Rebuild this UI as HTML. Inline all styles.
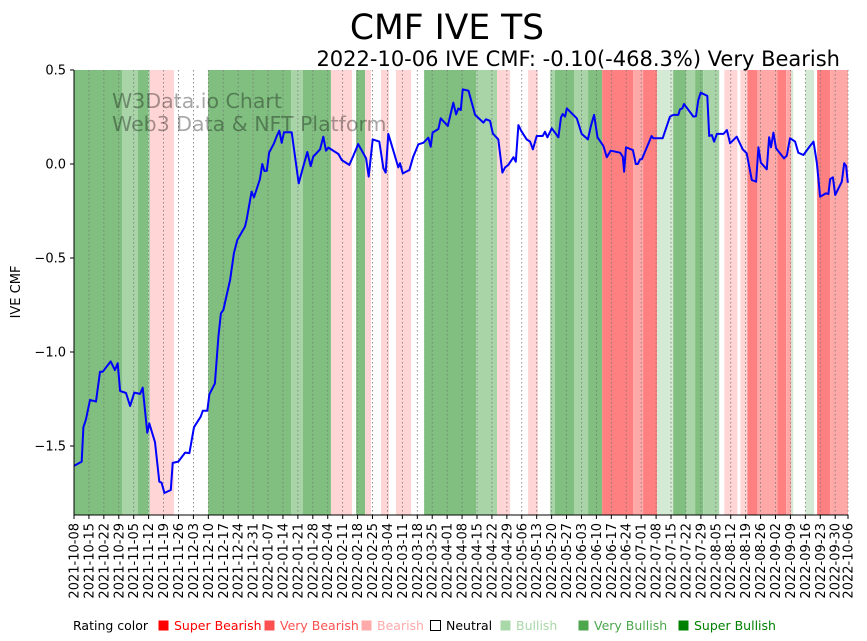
<!DOCTYPE html>
<html><head><meta charset="utf-8"><style>
body{margin:0;background:#fff;font-family:"DejaVu Sans","Liberation Sans",sans-serif;}
#wrap{position:relative;width:867px;height:641px;overflow:hidden;}
svg text{font-family:"DejaVu Sans","Liberation Sans",sans-serif;}
</style></head><body>
<div id="wrap">
<svg id="chart" width="867" height="641" xmlns="http://www.w3.org/2000/svg"></svg>
</div>
<script>
// ---- data ----
const tickLabels = ["2021-10-08","2021-10-15","2021-10-22","2021-10-29","2021-11-05","2021-11-12","2021-11-19","2021-11-26","2021-12-03","2021-12-10","2021-12-17","2021-12-24","2021-12-31","2022-01-07","2022-01-14","2022-01-21","2022-01-28","2022-02-04","2022-02-11","2022-02-18","2022-02-25","2022-03-04","2022-03-11","2022-03-18","2022-03-25","2022-04-01","2022-04-08","2022-04-15","2022-04-22","2022-04-29","2022-05-06","2022-05-13","2022-05-20","2022-05-27","2022-06-03","2022-06-10","2022-06-17","2022-06-24","2022-07-01","2022-07-08","2022-07-15","2022-07-22","2022-07-29","2022-08-05","2022-08-12","2022-08-19","2022-08-26","2022-09-02","2022-09-09","2022-09-16","2022-09-23","2022-09-30","2022-10-06"];
const tickDays = [0,7,14,21,28,35,42,49,56,63,70,77,84,91,98,105,112,119,126,133,140,147,154,161,168,175,182,189,196,203,210,217,224,231,238,245,252,259,266,273,280,287,294,301,308,315,322,329,336,343,350,357,363];
const yTicks = [0.5,0.0,-0.5,-1.0,-1.5];
const yTickLabels = ["0.5","0.0","\u22120.5","\u22121.0","\u22121.5"];
const days = [0,3.6,4.4,5.6,7.5,10.3,12.2,13.5,17.2,19.2,20.5,21.6,24.4,26.3,28.3,31.0,32.2,34.4,35.3,38.0,40.0,41.1,42.4,45.4,46.3,48.9,52.1,54.1,56.3,59.4,60.4,62.5,63.5,66.1,67.7,68.9,70.0,73.2,75.0,76.6,80.2,81.0,83.3,84.4,87.2,88.3,89.3,90.4,91.5,93.8,95.1,96.3,97.4,98.5,102.1,105.4,107.6,109.4,111.0,112.2,115.4,116.9,118.2,119.3,124.0,125.6,129.1,131.0,133.3,137.0,138.2,140.1,143.2,145.1,146.2,147.4,149.0,152.1,152.9,154.2,157.3,159.1,161.5,163.8,166.2,167.3,168.2,170.9,172.0,175.3,177.9,179.2,180.3,181.4,182.3,185.0,188.1,192.0,193.2,195.1,196.4,199.0,200.9,202.2,203.7,206.1,207.2,208.4,209.7,212.3,213.9,215.2,217.0,219.8,220.9,222.0,224.1,227.2,228.4,229.2,230.3,231.1,235.8,238.1,241.0,242.5,243.9,245.5,248.3,249.9,251.7,256.1,257.4,258.0,258.9,262.1,263.5,264.4,265.5,266.3,270.9,271.7,276.1,279.5,281.1,283.4,284.2,285.3,286.1,290.5,291.7,292.8,293.9,297.0,297.9,299.1,300.2,301.5,304.6,306.2,307.7,310.8,313.6,315.5,317.9,319.9,321.0,322.1,324.9,326.0,326.9,328.0,329.3,333.0,334.3,335.8,338.2,339.7,342.1,345.2,346.8,348.4,349.9,352.7,353.8,354.6,355.9,357.0,360.1,361.2,362.1,362.9];
const cmf = [-1.606,-1.583,-1.40,-1.36,-1.255,-1.264,-1.105,-1.105,-1.05,-1.096,-1.06,-1.207,-1.218,-1.287,-1.216,-1.223,-1.19,-1.43,-1.38,-1.48,-1.69,-1.695,-1.75,-1.734,-1.59,-1.583,-1.535,-1.538,-1.40,-1.344,-1.312,-1.312,-1.225,-1.167,-0.919,-0.794,-0.777,-0.617,-0.475,-0.404,-0.333,-0.294,-0.147,-0.177,-0.081,0.0,-0.037,-0.036,0.06,0.11,0.149,0.177,0.113,0.169,0.169,-0.103,-0.011,0.064,-0.011,0.039,0.078,0.145,0.071,0.087,0.053,0.021,-0.005,0.043,0.106,0.03,-0.067,0.131,0.119,-0.023,-0.046,0.16,0.10,-0.018,0.004,-0.05,-0.032,0.039,0.105,0.113,0.14,0.092,0.167,0.186,0.243,0.202,0.326,0.264,0.296,0.287,0.397,0.39,0.261,0.22,0.238,0.23,0.163,0.131,-0.046,-0.018,-0.005,0.036,0.012,0.207,0.177,0.131,0.119,0.078,0.149,0.149,0.172,0.142,0.19,0.142,0.248,0.266,0.252,0.296,0.243,0.16,0.131,0.207,0.261,0.142,0.096,0.036,0.071,0.06,0.039,-0.041,0.089,0.074,0.0,0.0,0.025,0.025,0.149,0.137,0.137,0.252,0.261,0.261,0.291,0.296,0.319,0.252,0.255,0.34,0.379,0.362,0.149,0.154,0.119,0.16,0.16,0.181,0.11,0.145,0.078,0.057,-0.085,-0.094,0.089,0.007,-0.028,0.142,0.089,0.167,0.083,0.03,0.044,0.137,0.119,0.06,0.048,0.096,0.119,0.004,-0.174,-0.156,-0.16,-0.081,-0.071,-0.165,-0.094,0.004,-0.01,-0.10];
const bandStart = [0,22.5,30.0,34.7,35.6,62.9,101.8,107.4,120.5,132.3,136.5,144.0,151.0,164.2,188.6,198.4,213.0,223.3,225.6,234.5,241.1,247.7,262.2,266.9,273.5,281.0,287.1,291.3,295.1,305.0,312.5,315.8,320.5,329.9,334.0,336.4,343.0,348.5,354.6];
const bandEnd   = [22.5,30.0,34.7,35.6,46.9,101.8,107.4,120.5,130.4,136.5,139.3,147.7,158.1,188.6,198.4,204.5,217.6,225.6,234.5,241.1,247.7,262.2,266.9,273.5,281.0,287.1,291.3,295.1,302.6,311.1,315.8,320.5,329.9,334.0,336.4,337.3,347.1,354.6,363];
const bandRating= [3,2,3,2,-1,3,2,3,-1,3,-1,-1,-1,3,2,-1,-1,2,3,2,3,-3,-2,-3,1,3,2,3,2,-1,-1,-3,-2,-3,-2,1,1,-3,-2];
const legendLabels = ["Super Bearish","Very Bearish","Bearish","Neutral","Bullish","Very Bullish","Super Bullish"];
const legendColors = ["#ff0000","#ff5050","#ffaaaa","#ffffff","#a8d8a8","#4ca64c","#008000"];

// ---- layout ----
const NS="http://www.w3.org/2000/svg";
const svg=document.getElementById('chart');
const L=74,R=848,T=70,B=515,D0=0,D1=363,V0=0.5,V1=-1.867;
const xs=d=>L+(d-D0)/(D1-D0)*(R-L);
const ys=v=>T+(V0-v)/(V0-V1)*(B-T);
const bandColor={"-3":"#ff8080","-2":"#ffa8a8","-1":"#ffd5d5","1":"#d5ead5","2":"#a8d4a8","3":"#80bf80"};
function mk(tag,attrs,parent){const e=document.createElementNS(NS,tag);for(const k in attrs)e.setAttribute(k,attrs[k]);(parent||svg).appendChild(e);return e;}

const gB=mk('g',{});


bandStart.forEach((s,i)=>{
  const r=mk('rect',{x:xs(s),y:T,width:xs(bandEnd[i])-xs(s),height:B-T,fill:bandColor[bandRating[i]]},gB);
  
  
});
const gG=mk('g',{});


tickDays.forEach(d=>{
  mk('line',{x1:xs(d),x2:xs(d),y1:T,y2:B,stroke:'#777','stroke-width':0.8,'stroke-dasharray':'1.5,2.5'},gG);
});
// watermark
const w1=mk('text',{x:112,y:108,'font-size':20.5,fill:'#000','fill-opacity':0.35});w1.textContent='W3Data.io Chart';


const w2=mk('text',{x:112,y:131,'font-size':20.5,fill:'#000','fill-opacity':0.35});w2.textContent='Web3 Data & NFT Platform';


// line
const pts=days.map((d,i)=>xs(d).toFixed(1)+','+ys(cmf[i]).toFixed(1)).join(' ');
const ln=mk('polyline',{points:pts,fill:'none',stroke:'#0000ff','stroke-width':2,'stroke-linejoin':'round'});


// axes
const ax=mk('path',{d:`M${L},${T} V${B} H${R}`,fill:'none',stroke:'#000','stroke-width':1});


yTicks.forEach((v,i)=>{
  mk('line',{x1:L-4,x2:L,y1:ys(v),y2:ys(v),stroke:'#000'});
  const t=mk('text',{x:L-8,y:ys(v)+4.5,'font-size':13,'text-anchor':'end'});t.textContent=yTickLabels[i];
  
  
});
tickDays.forEach((d,i)=>{
  mk('line',{x1:xs(d),x2:xs(d),y1:B,y2:B+4,stroke:'#000'});
  const t=mk('text',{x:0,y:0,'font-size':13,'text-anchor':'end',transform:`translate(${xs(d)+4.5},${B+8}) rotate(-90)`});
  t.textContent=tickLabels[i];
  
  
});
const yl=mk('text',{x:0,y:0,'font-size':13,'text-anchor':'middle',transform:'translate(20,292) rotate(-90)'});yl.textContent='IVE CMF';


const tt=mk('text',{x:447,y:39,'font-size':34.5,'text-anchor':'middle'});tt.textContent='CMF IVE TS';


const st=mk('text',{x:840,y:66,'font-size':21,'text-anchor':'end'});st.textContent='2022-10-06 IVE CMF: -0.10(-468.3%) Very Bearish';


// legend
const lg=mk('g',{});


const lt=mk('text',{x:73,y:630,'font-size':12.5},lg);lt.textContent='Rating color';
const legX=[158,264,361,430,500,578,678];
legendLabels.forEach((lab,i)=>{
  const g=mk('g',{},lg);
  
  
  mk('rect',{x:legX[i]+0.5,y:620.5,width:10,height:10,fill:legendColors[i],stroke:i===3?'#000':'none'},g);
  const t=mk('text',{x:legX[i]+16,y:630,'font-size':12.5,fill:i===3?'#000':legendColors[i]},g);t.textContent=lab;
});
</script>
</body></html>
